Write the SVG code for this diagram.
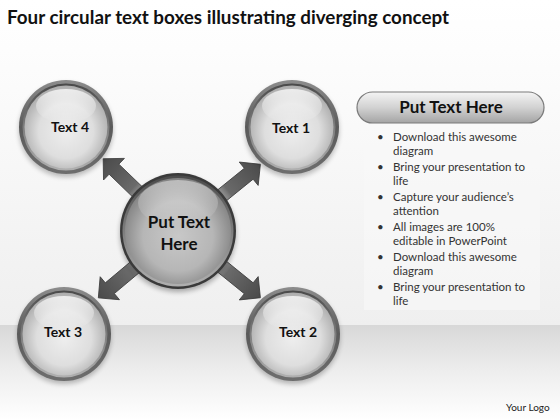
<svg xmlns="http://www.w3.org/2000/svg" width="560" height="420" viewBox="0 0 560 420">
<defs>
<linearGradient id="bgTop" x1="0" y1="0" x2="0" y2="1">
<stop offset="0" stop-color="#ffffff"/>
<stop offset="0.15" stop-color="#fdfdfd"/>
<stop offset="1" stop-color="#efefef"/>
</linearGradient>
<linearGradient id="bgBand" x1="0" y1="0" x2="0" y2="1">
<stop offset="0" stop-color="#d8d8d8"/>
<stop offset="0.5" stop-color="#eeeeee"/>
<stop offset="1" stop-color="#ffffff"/>
</linearGradient>
<linearGradient id="ring" x1="0" y1="0" x2="0" y2="1">
<stop offset="0" stop-color="#8c8c8c"/>
<stop offset="0.5" stop-color="#5a5a5a"/>
<stop offset="1" stop-color="#6e6e6e"/>
</linearGradient>
<linearGradient id="ringIn" x1="0" y1="0" x2="0" y2="1">
<stop offset="0" stop-color="#4a4a4a"/>
<stop offset="1" stop-color="#b0b0b0"/>
</linearGradient>
<radialGradient id="face" cx="0.5" cy="0.55" r="0.55">
<stop offset="0" stop-color="#eeeeee"/>
<stop offset="0.6" stop-color="#dedede"/>
<stop offset="1" stop-color="#ababab"/>
</radialGradient>
<radialGradient id="faceC" cx="0.5" cy="0.55" r="0.55">
<stop offset="0" stop-color="#c8c8c8"/>
<stop offset="0.6" stop-color="#b6b6b6"/>
<stop offset="1" stop-color="#808080"/>
</radialGradient>
<linearGradient id="gloss" x1="0" y1="0" x2="0" y2="1">
<stop offset="0" stop-color="#ffffff" stop-opacity="0.75"/>
<stop offset="1" stop-color="#ffffff" stop-opacity="0"/>
</linearGradient>
<linearGradient id="arrowG" x1="0" y1="0" x2="1" y2="0">
<stop offset="0" stop-color="#9a9a9a"/>
<stop offset="0.15" stop-color="#6a6a6a"/>
<stop offset="1" stop-color="#4a4a4a"/>
</linearGradient>
<linearGradient id="pillG" x1="0" y1="0" x2="0" y2="1">
<stop offset="0" stop-color="#f4f4f4"/>
<stop offset="0.5" stop-color="#d2d2d2"/>
<stop offset="1" stop-color="#a4a4a4"/>
</linearGradient>
<filter id="sh" x="-20%" y="-20%" width="140%" height="140%">
<feGaussianBlur stdDeviation="2.5"/>
</filter>
<path id="arr" d="M0,-7 L34,-7 L34,-15 L49,0 L34,15 L34,7 L0,7 Z"/>
</defs>
<style>
.title{font-family:"Lato","Liberation Sans",sans-serif;font-weight:bold;font-size:18px;fill:#111}
.lbl{font-family:"Lato","Liberation Sans",sans-serif;font-weight:bold;font-size:14px;fill:#111;text-anchor:middle}
.lblC{font-family:"Lato","Liberation Sans",sans-serif;font-weight:bold;font-size:17px;fill:#111;text-anchor:middle}
.bul{font-family:"Lato","Liberation Sans",sans-serif;font-size:11.5px;fill:#333}
.arrow{fill:url(#arrowG);stroke:#3c3c3c;stroke-width:0.8}
</style>
<rect x="0" y="0" width="560" height="325" fill="url(#bgTop)"/>
<rect x="0" y="325" width="560" height="95" fill="url(#bgBand)"/>
<text class="title" x="7" y="24" textLength="442" lengthAdjust="spacingAndGlyphs">Four circular text boxes illustrating diverging concept</text>

<g id="connectors">
<use href="#arr" class="arrow" transform="translate(178,231) rotate(224) translate(55,0)"/>
<use href="#arr" class="arrow" transform="translate(178,231) rotate(-39) translate(57,0)"/>
<use href="#arr" class="arrow" transform="translate(178,231) rotate(140) translate(55,0)"/>
<use href="#arr" class="arrow" transform="translate(178,231) rotate(39) translate(57,0)"/>
</g>

<g id="node-center">
<circle cx="178" cy="234" r="58" fill="#000" opacity="0.3" filter="url(#sh)"/>
<circle cx="178" cy="231" r="58" fill="#3a3a3a"/>
<circle cx="178" cy="231" r="55.5" fill="url(#ringIn)"/>
<circle cx="178" cy="231" r="53" fill="url(#faceC)"/>
<ellipse cx="178" cy="203" rx="40" ry="23" fill="url(#gloss)" opacity="0.6"/>
<text class="lblC" x="179" y="228">Put Text</text>
<text class="lblC" x="179" y="250">Here</text>
</g>

<g id="node-text4">
<circle cx="66" cy="130" r="47" fill="#000" opacity="0.25" filter="url(#sh)"/>
<circle cx="66" cy="127" r="47" fill="url(#ring)"/>
<circle cx="66" cy="127" r="43.5" fill="url(#ringIn)"/>
<circle cx="66" cy="127" r="41.5" fill="url(#face)"/>
<ellipse cx="66" cy="106" rx="30" ry="17" fill="url(#gloss)"/>
<text class="lbl" x="70" y="132">Text 4</text>
</g>

<g id="node-text1">
<circle cx="292" cy="130" r="47" fill="#000" opacity="0.25" filter="url(#sh)"/>
<circle cx="292" cy="127" r="47" fill="url(#ring)"/>
<circle cx="292" cy="127" r="43.5" fill="url(#ringIn)"/>
<circle cx="292" cy="127" r="41.5" fill="url(#face)"/>
<ellipse cx="292" cy="106" rx="30" ry="17" fill="url(#gloss)"/>
<text class="lbl" x="291" y="133">Text 1</text>
</g>

<g id="node-text3">
<circle cx="64" cy="337" r="47" fill="#000" opacity="0.25" filter="url(#sh)"/>
<circle cx="64" cy="334" r="47" fill="url(#ring)"/>
<circle cx="64" cy="334" r="43.5" fill="url(#ringIn)"/>
<circle cx="64" cy="334" r="41.5" fill="url(#face)"/>
<ellipse cx="64" cy="313" rx="30" ry="17" fill="url(#gloss)"/>
<text class="lbl" x="63" y="337">Text 3</text>
</g>

<g id="node-text2">
<circle cx="293" cy="337" r="47" fill="#000" opacity="0.25" filter="url(#sh)"/>
<circle cx="293" cy="334" r="47" fill="url(#ring)"/>
<circle cx="293" cy="334" r="43.5" fill="url(#ringIn)"/>
<circle cx="293" cy="334" r="41.5" fill="url(#face)"/>
<ellipse cx="293" cy="313" rx="30" ry="17" fill="url(#gloss)"/>
<text class="lbl" x="298" y="337">Text 2</text>
</g>

<g id="panel">
<rect x="364" y="122" width="176" height="188" fill="#f9f9f9" opacity="0.6"/>
<rect x="357" y="92" width="187" height="31" rx="15.5" fill="url(#pillG)" stroke="#7a7a7a" stroke-width="1.2"/>
<text class="lblC" x="451" y="113">Put Text Here</text>
<g class="bul">
<text x="377" y="141">•</text><text x="393" y="141">Download this awesome</text>
<text x="393" y="155">diagram</text>
<text x="377" y="171">•</text><text x="393" y="171">Bring your presentation to</text>
<text x="393" y="185">life</text>
<text x="377" y="201">•</text><text x="393" y="201">Capture your audience’s</text>
<text x="393" y="215">attention</text>
<text x="377" y="231">•</text><text x="393" y="231">All images are 100%</text>
<text x="393" y="245">editable in PowerPoint</text>
<text x="377" y="261">•</text><text x="393" y="261">Download this awesome</text>
<text x="393" y="275">diagram</text>
<text x="377" y="291">•</text><text x="393" y="291">Bring your presentation to</text>
<text x="393" y="305">life</text>
</g>
</g>
<text x="506" y="411" style="font-family:'Lato','Liberation Sans',sans-serif;font-size:10px;fill:#222">Your Logo</text>
</svg>
